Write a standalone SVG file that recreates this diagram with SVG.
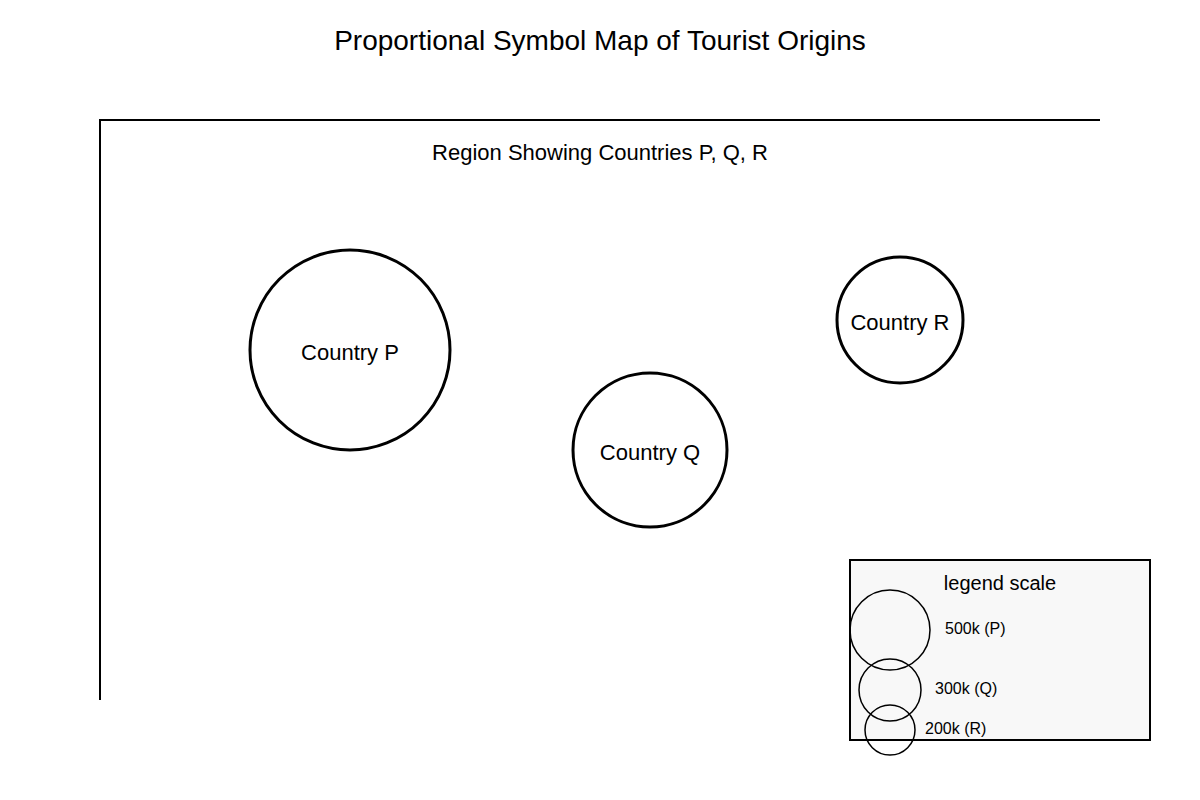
<svg xmlns="http://www.w3.org/2000/svg" width="1200" height="800" viewBox="0 0 1200 800">
<style>
text{font-family:"Liberation Sans",Arial,sans-serif;fill:#000}
.sym{fill:none;stroke:#000;stroke-width:3}
.leg{fill:none;stroke:#000;stroke-width:1.5}
.lt{font-size:16px;dominant-baseline:middle}
</style>
<rect width="1200" height="800" fill="#fff"/>
<text x="600" y="50" font-size="28" text-anchor="middle">Proportional Symbol Map of Tourist Origins</text>
<g id="frame" fill="none" stroke="#000" stroke-width="2">
<path d="M100 700V120H1100"/>
</g>
<text x="600" y="160" font-size="22" text-anchor="middle">Region Showing Countries P, Q, R</text>
<g id="countryP"><circle class="sym" cx="350" cy="350" r="100"/><text x="350" y="360" font-size="22" text-anchor="middle">Country P</text></g>
<g id="countryQ"><circle class="sym" cx="650" cy="450" r="77"/><text x="650" y="460" font-size="22" text-anchor="middle">Country Q</text></g>
<g id="countryR"><circle class="sym" cx="900" cy="320" r="63"/><text x="900" y="330" font-size="22" text-anchor="middle">Country R</text></g>
<g id="connectors"/>
<g id="legend">
<rect x="850" y="560" width="300" height="180" fill="#f8f8f8" stroke="#000" stroke-width="2"/>
<text x="1000" y="590" font-size="20" text-anchor="middle">legend scale</text>
<circle class="leg" cx="890" cy="630" r="40"/>
<circle class="leg" cx="890" cy="690" r="31"/>
<circle class="leg" cx="890" cy="730" r="25"/>
<text class="lt" x="945" y="630">500k (P)</text>
<text class="lt" x="935" y="690">300k (Q)</text>
<text class="lt" x="925" y="730">200k (R)</text>
</g>
</svg>
